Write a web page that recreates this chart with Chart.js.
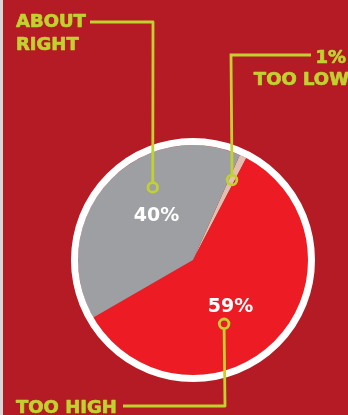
<!DOCTYPE html>
<html>
<head>
<meta charset="utf-8">
<script src="https://cdn.jsdelivr.net/npm/chart.js@4.4.1/dist/chart.umd.min.js"></script>
<style>
  html, body { margin: 0; padding: 0; background: #B41B24; }
  canvas { display: block; }
</style>
</head>
<body>
<canvas id="c" width="348" height="415"></canvas>
<script>
// ---- data ----
const categories = ["TOO LOW", "TOO HIGH", "ABOUT RIGHT"];
const values = [1, 59, 40];
const valueLabels = ["1%", "59%", "40%"];
const sliceColors = ["#E2BFAF", "#ED1C24", "#9D9FA2"];

const BG = "#B41B24";
const ACCENT = "#C1D22F";
const FONT = "bold 18px 'DejaVu Sans', sans-serif";
const INNER_FONT = "bold 19px 'DejaVu Sans', sans-serif";

// label layout (annotation geometry relative to pie centre / chart canvas)
const labelLayout = [
  { // TOO LOW
    marker: { angle: 26, dist: 89 },
    elbow: { x: 231, y: 55 }, lineEnd: { x: 311, y: 55 },
    lines: [{ t: "1%", x: 346, y: 63, align: "right" }, { t: "TOO LOW", x: 349, y: 85, align: "right" }]
  },
  { // TOO HIGH
    marker: { angle: 154, dist: 71 },
    elbow: { x: 225, y: 406 }, lineEnd: { x: 123, y: 406 },
    inner: { angle: 144.2, dist: 64 },
    lines: [{ t: "TOO HIGH", x: 16, y: 413, align: "left" }]
  },
  { // ABOUT RIGHT
    marker: { angle: 331, dist: 83 },
    elbow: { x: 153, y: 22 }, lineEnd: { x: 90, y: 22 },
    inner: { angle: 316.9, dist: 53.4 },
    lines: [{ t: "ABOUT", x: 16, y: 27, align: "left" }, { t: "RIGHT", x: 16, y: 50, align: "left" }]
  }
];

const polar = (cx, cy, a, d) => {
  const r = (a - 90) * Math.PI / 180;
  return { x: cx + d * Math.cos(r), y: cy + d * Math.sin(r) };
};

const bgPlugin = {
  id: "bg",
  beforeDraw(chart) {
    const ctx = chart.ctx;
    ctx.save();
    ctx.fillStyle = BG;
    ctx.fillRect(0, 0, chart.width, chart.height);
    ctx.fillStyle = "#D9D6D6";
    ctx.fillRect(0, 0, 3, chart.height);
    ctx.restore();
  }
};

const annotPlugin = {
  id: "annot",
  afterDatasetsDraw(chart) {
    const ctx = chart.ctx;
    const meta = chart.getDatasetMeta(0);
    const arc = meta.data[0];
    const cx = arc.x, cy = arc.y, R = arc.outerRadius;
    ctx.save();
    // white ring
    ctx.beginPath();
    ctx.arc(cx, cy, R + 3.5, 0, Math.PI * 2);
    ctx.strokeStyle = "#FFFFFF";
    ctx.lineWidth = 7;
    ctx.stroke();

    labelLayout.forEach((L, i) => {
      // inner percentage text
      if (L.inner) {
        const p = polar(cx, cy, L.inner.angle, L.inner.dist);
        ctx.fillStyle = "#FFFFFF";
        ctx.font = INNER_FONT;
        ctx.textAlign = "center";
        ctx.textBaseline = "alphabetic";
        ctx.fillText(valueLabels[i], p.x, p.y);
      }
      // leader
      const m = polar(cx, cy, L.marker.angle, L.marker.dist);
      ctx.strokeStyle = ACCENT;
      ctx.lineWidth = 2.8;
      ctx.beginPath();
      const dir = L.elbow.y < m.y ? 1 : -1;
      ctx.moveTo(m.x, m.y - dir * 5.5);
      ctx.lineTo(L.elbow.x, L.elbow.y);
      ctx.lineTo(L.lineEnd.x, L.lineEnd.y);
      ctx.stroke();
      ctx.beginPath();
      ctx.arc(m.x, m.y, 4.8, 0, Math.PI * 2);
      ctx.stroke();
      // outer text
      ctx.fillStyle = ACCENT;
      ctx.strokeStyle = ACCENT;
      ctx.lineWidth = 0.7;
      ctx.lineJoin = "round";
      ctx.font = FONT;
      ctx.textBaseline = "alphabetic";
      L.lines.forEach(l => {
        ctx.textAlign = l.align;
        ctx.fillText(l.t, l.x, l.y);
        ctx.strokeText(l.t, l.x, l.y);
      });
    });
    ctx.restore();
  }
};

new Chart(document.getElementById("c"), {
  type: "pie",
  data: {
    labels: categories,
    datasets: [{
      data: values,
      backgroundColor: sliceColors,
      borderWidth: 0
    }]
  },
  options: {
    responsive: false,
    animation: false,
    rotation: 24,
    layout: { padding: { left: 78, right: 40, top: 145, bottom: 40 } },
    plugins: {
      legend: { display: false },
      tooltip: { enabled: false }
    },
    events: []
  },
  plugins: [bgPlugin, annotPlugin]
});
</script>
</body>
</html>
